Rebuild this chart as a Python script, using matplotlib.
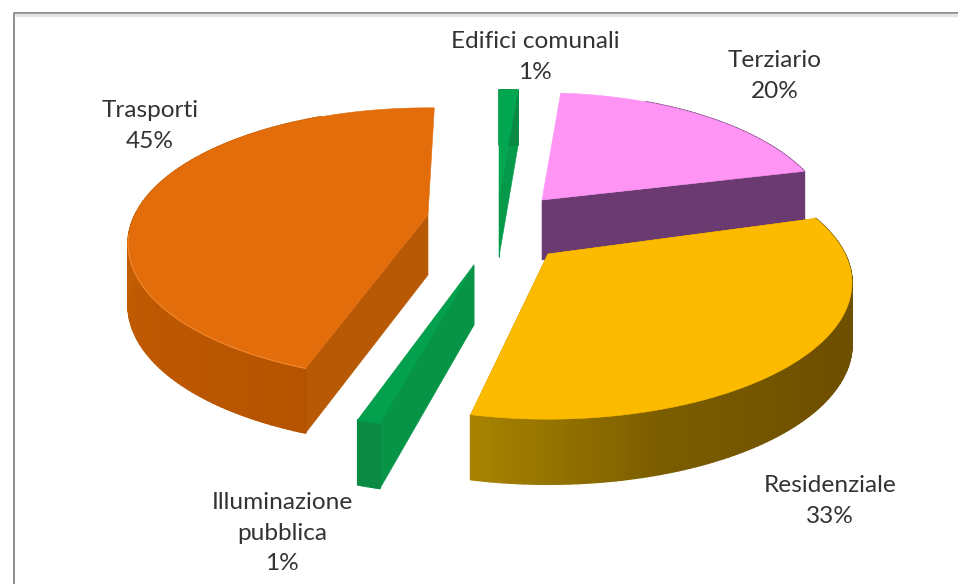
import numpy as np
import matplotlib
matplotlib.use("Agg")
import matplotlib.pyplot as plt
from matplotlib.collections import PolyCollection
from matplotlib.colors import to_rgb

# Shares of the energy balance, clockwise from the top of the pie
categories = ["Edifici comunali", "Terziario", "Residenziale", "Illuminazione\npubblica", "Trasporti"]
values = [1, 20, 33, 1, 45]

top_colors = ["#00a650", "#ff94f5", "#fdbb00", "#03a04d", "#e26d0a"]
cut_colors = ["#059a4a", "#6b3a70", "#a58000", "#079447", "#b85a05"]
# Colour of the outer wall from the start of the arc to its end
wall_stops = [
    [(0.0, "#0a8a42"), (1.0, "#0a8a42")],
    [(0.0, "#6b3a70"), (1.0, "#6b3a70")],
    [(0.0, "#6b5000"), (0.45, "#6e5000"), (0.75, "#7a5c00"), (1.0, "#a88400")],
    [(0.0, "#0a8a42"), (1.0, "#0a8a42")],
    [(0.0, "#b55300"), (0.2, "#bd5802"), (0.6, "#c96206"), (1.0, "#c45f08")],
]

# Slice tip in pixels, horizontal radius and small turn (degrees) of every exploded slice
tips = [(499, 197), (542, 200), (548, 254), (474, 265), (428, 215)]
radii_x = [370, 283, 297, 300, 293]
turns = [0, 1, -2.5, 0, 1.5]
radius_y = 130
persp = 0.213

label_pos = [(535, 57), (775, 76), (830, 501), (282, 533), (150, 126)]
draw_order = [1, 0, 4, 3, 2]


def project(theta, tip, rx):
    """Map clock angles on the pie's disc onto the tilted view."""
    x, y = np.sin(theta), np.cos(theta)
    w = 1 + persp * y
    return tip[0] + rx * x / w, tip[1] - radius_y * y / w


def wall_height(theta):
    return 60 - 5 * np.cos(theta)


def ramp(stops, t):
    pos = [s[0] for s in stops]
    rgb = np.array([to_rgb(s[1]) for s in stops])
    return np.column_stack([np.interp(t, pos, rgb[:, i]) for i in range(3)])


fig = plt.figure(figsize=(9.58, 5.84), dpi=100, facecolor="white")
ax = fig.add_axes([0, 0, 1, 1])
ax.set_xlim(0, 958)
ax.set_ylim(584, 0)
ax.axis("off")

# Chart frame, open on the right and at the bottom
ax.plot([14.5, 14.5, 958], [584, 12.5, 12.5], color="#858585", lw=1.3, zorder=1)
ax.plot([16, 958], [14.8, 14.8], color="#e4e4e4", lw=2.4, zorder=1)

edges = np.concatenate([[0], np.cumsum(values)]) / np.sum(values) * 2 * np.pi
z = 2
for i in draw_order:
    a0, a1 = edges[i] + np.radians(turns[i]), edges[i + 1] + np.radians(turns[i])
    tip, rx = tips[i], radii_x[i]
    th = np.linspace(a0, a1, max(int(np.degrees(a1 - a0)), 6))
    px, py = project(th, tip, rx)
    tip_h = wall_height(np.pi / 2)

    # Flat cut faces running from the tip out to the rim; those turned away stay hidden
    for a, xr, yr in ((a0, px[0], py[0]), (a1, px[-1], py[-1])):
        if np.cos(a) > 0.9 and values[i] > min(values):
            continue
        h = wall_height(a)
        ax.fill([tip[0], xr, xr, tip[0]],
                [tip[1], yr, yr + h, tip[1] + tip_h],
                color=cut_colors[i], lw=0.4, zorder=z)
    z += 1

    # Outer wall, shaded strip by strip along the arc
    hs = wall_height(th)
    quads = [[(px[k], py[k]), (px[k + 1], py[k + 1]),
              (px[k + 1], py[k + 1] + hs[k + 1]), (px[k], py[k] + hs[k])]
             for k in range(len(th) - 1)]
    visible = [k for k in range(len(quads)) if np.cos(th[k]) < 0.9 or values[i] == min(values)]
    t = (np.array(visible) + 0.5) / len(quads)
    shades = ramp(wall_stops[i], t)
    ax.add_collection(PolyCollection([quads[k] for k in visible], facecolors=shades,
                                     edgecolors=shades, linewidths=1.2, zorder=z))
    z += 1

    # Top face of the slice
    ax.fill(np.r_[tip[0], px], np.r_[tip[1], py], color=top_colors[i], lw=0.4, zorder=z)
    z += 1

    # Faint highlight along the front rim of the largest slice
    if values[i] == max(values):
        front = np.cos(th) < -0.15
        ax.plot(px[front], py[front], color="#f0852a", lw=0.9, zorder=z)
        z += 1

for name, value, (lx, ly) in zip(categories, values, label_pos):
    ax.text(lx, ly, f"{name}\n{value}%", ha="center", va="center", ma="center",
            fontsize=17.6, family="Lato", color="#333333", linespacing=1.55, zorder=50)

fig.savefig("out.png", dpi=100, facecolor="white")
